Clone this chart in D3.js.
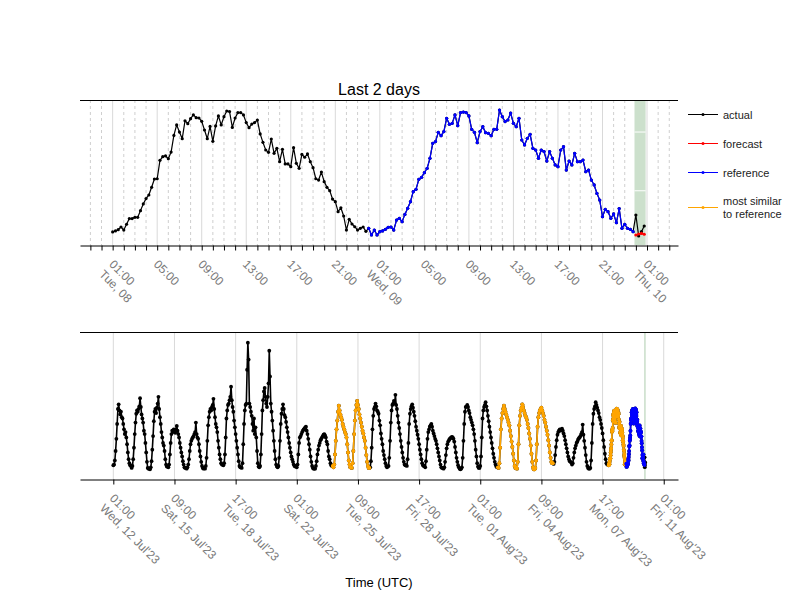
<!DOCTYPE html>
<html><head><meta charset="utf-8">
<script src="https://cdn.jsdelivr.net/npm/d3@7"></script>
<style>
body{margin:0;background:#fff;}
svg text{font-family:"Liberation Sans", Arial, Helvetica, sans-serif;}
</style>
</head><body>
<svg id="chart" width="800" height="600"></svg>
<script>
// ---------------- DATA ----------------
// 15-minute actual values, Tue 08 Aug 2023 01:00 UTC .. 23:45
const tueStart = "2023-08-08T01:00:00Z";
const tueActual = [
  9.0, 9.7, 10.6, 12.4, 10.3, 14.3, 18.2, 18.2, 19.1, 19.1, 23.7, 28.3,
  32.0, 34.5, 39.8, 45.5, 45.7, 58.4, 60.9, 61.4, 59.5, 64.1, 75.6, 82.8,
  77.9, 73.3, 85.7, 83.7, 87.1, 89.7, 87.8, 87.6, 85.3, 79.3, 73.3, 81.8,
  71.5, 82.1, 89.0, 82.8, 88.5, 92.4, 92.0, 81.1, 87.6, 91.3,
  91.3, 89.7, 84.4, 80.9, 83.4, 84.4, 86.2, 76.6, 70.8, 65.5, 63.9, 73.1,
  63.2, 66.7, 57.5, 66.0, 55.9, 55.9, 54.0, 67.1, 56.3, 52.9, 62.5, 60.5,
  62.8, 57.5, 53.3, 45.7, 44.8, 50.3, 43.7, 39.8, 37.5, 31.7, 29.9, 23.0,
  25.7, 20.0, 10.3, 17.7, 14.5, 12.6, 10.3, 11.5, 12.4, 9.4
];
// 15-minute reference day, Wed 09 Aug 2023 00:00 .. 23:45
const wedStart = "2023-08-09T00:00:00Z";
const wedReference = [
  11.5, 6.9, 10.3, 6.9, 9.2, 9.7, 10.8, 12.2, 12.4, 10.3, 17.2, 18.4,
  16.1, 21.1, 25.3, 29.9, 36.8, 38.4, 45.3, 46.7, 49.9, 52.9, 59.8, 70.1,
  71.3, 77.7, 75.4, 78.2, 87.4, 83.2, 83.9, 89.7, 82.3, 91.3, 91.7, 91.3,
  89.0, 79.8, 77.7, 70.6, 78.2, 81.6, 77.5, 77.0, 75.4, 79.8, 79.8, 93.1,
  88.5, 85.1, 86.2, 91.0,
  83.9, 81.6, 87.4, 72.4, 69.0, 73.6, 76.3, 66.7, 65.5, 59.8, 65.5, 64.4,
  57.9, 64.4, 59.8, 55.2, 54.0, 65.5, 67.8, 51.7, 57.9, 55.2, 63.2, 57.5,
  57.5, 58.6, 50.6, 51.7, 44.8, 41.4, 35.6, 31.0, 19.5, 24.6, 23.0, 18.4,
  21.4, 15.4, 25.1, 11.5, 14.3, 11.5, 10.8, 9.2
];
// Thu 10 Aug 2023 00:00 .. 00:45
const thuStart = "2023-08-10T00:00:00Z";
const thuActual = [20.7, 6.2, 9.2, 13.1];
const thuForecast = [6.9, 7.6, 8.0, 7.4];

// Hourly values, Wed 12 Jul 2023 01:00 UTC .. Mon 07 Aug 2023 23:00
const hourlyStart = "2023-07-12T01:00:00Z";
const hourlyLoad = [
  /*12 Jul*/ 9, 10, 16, 30, 48, 70, 92, 99, 90, 84, 88, 80, 78, 70, 62, 55, 58, 50, 40, 28, 18, 12, 9,
  /*13 Jul*/ 8, 5, 8, 18, 35, 55, 72, 85, 90, 88, 92, 96, 108, 95, 84, 78, 72, 60, 55, 42, 28, 14, 5, 4,
  /*14 Jul*/ 4, 3, 6, 15, 32, 52, 74, 88, 92, 86, 94, 100, 110, 92, 80, 70, 58, 50, 42, 38, 30, 18, 10, 7,
  /*15 Jul*/ 7, 6, 10, 25, 42, 55, 60, 58, 62, 60, 57, 62, 67, 60, 55, 50, 42, 35, 28, 22, 15, 10, 6, 5,
  /*16 Jul*/ 5, 4, 6, 10, 18, 30, 40, 45, 48, 50, 52, 55, 58, 72, 55, 50, 48, 40, 30, 22, 14, 8, 5, 4,
  /*17 Jul*/ 5, 4, 8, 20, 45, 68, 80, 88, 92, 90, 95, 98, 107, 92, 80, 70, 65, 58, 45, 35, 25, 18, 12, 10,
  /*18 Jul*/ 10, 9, 12, 25, 50, 78, 90, 98, 100, 105, 110, 125, 105, 95, 88, 75, 65, 55, 45, 35, 25, 15, 8, 6,
  /*19 Jul*/ 6, 5, 12, 40, 70, 90, 98, 100, 150, 190, 165, 100, 95, 88, 82, 70, 60, 78, 55, 65, 50, 30, 12, 7,
  /*20 Jul*/ 6, 8, 25, 55, 90, 105, 118, 123, 110, 100, 95, 110, 130, 178, 140, 100, 88, 75, 60, 45, 30, 18, 10, 7,
  /*21 Jul*/ 6, 8, 20, 45, 70, 85, 92, 99, 92, 83, 80, 73, 65, 58, 50, 42, 35, 28, 22, 18, 14, 10, 8, 7,
  /*22 Jul*/ 8, 6, 10, 25, 42, 50, 52, 55, 58, 60, 62, 63, 65, 66, 60, 55, 48, 40, 32, 22, 14, 8, 5, 4,
  /*23 Jul*/ 4, 4, 8, 15, 25, 32, 38, 42, 46, 48, 50, 52, 54, 55, 53, 50, 44, 40, 30, 22, 18, 12, 9, 8,
  /*24 Jul*/ 8, 6, 10, 25, 45, 62, 75, 88, 97, 90, 84, 80, 76, 70, 66, 62, 58, 55, 50, 40, 28, 16, 10, 6,
  /*25 Jul*/ 6, 5, 12, 30, 55, 75, 90, 98, 104, 98, 92, 84, 78, 72, 66, 60, 56, 50, 45, 35, 24, 14, 8, 5,
  /*26 Jul*/ 5, 6, 15, 35, 62, 82, 92, 95, 100, 96, 90, 88, 85, 75, 68, 56, 48, 40, 30, 24, 18, 12, 8, 6,
  /*27 Jul*/ 7, 8, 20, 45, 72, 90, 98, 100, 104, 100, 113, 98, 92, 82, 72, 64, 55, 45, 36, 28, 20, 14, 10, 9,
  /*28 Jul*/ 9, 8, 18, 42, 70, 85, 92, 96, 99, 94, 88, 82, 74, 66, 60, 54, 48, 40, 32, 25, 18, 12, 9, 8,
  /*29 Jul*/ 8, 6, 15, 32, 48, 58, 62, 66, 68, 70, 66, 60, 56, 52, 48, 45, 40, 34, 28, 22, 16, 10, 6, 5,
  /*30 Jul*/ 5, 4, 6, 14, 24, 34, 40, 44, 46, 48, 49, 50, 51, 50, 48, 44, 36, 28, 20, 14, 9, 6, 4, 3,
  /*31 Jul*/ 4, 6, 20, 45, 70, 88, 95, 96, 98, 95, 90, 86, 80, 76, 72, 68, 62, 55, 45, 32, 22, 12, 7, 5,
  /*01 Aug*/ 5, 8, 22, 50, 78, 90, 95, 98, 102, 96, 90, 82, 74, 66, 58, 50, 42, 34, 26, 20, 14, 10, 7, 6,
  /*02 Aug*/ 6, 5, 12, 35, 62, 78, 86, 92, 97, 92, 88, 84, 80, 76, 72, 68, 60, 52, 44, 36, 26, 16, 8, 5,
  /*03 Aug*/ 5, 4, 14, 40, 68, 82, 90, 94, 99, 95, 90, 86, 82, 80, 76, 70, 64, 56, 48, 38, 26, 14, 6, 3,
  /*04 Aug*/ 3, 5, 16, 40, 66, 80, 86, 90, 92, 94, 90, 86, 82, 76, 72, 66, 60, 54, 46, 38, 28, 20, 14, 12,
  /*05 Aug*/ 12, 11, 14, 24, 36, 46, 54, 58, 60, 62, 60, 62, 63, 60, 56, 52, 46, 40, 34, 28, 22, 18, 15, 14,
  /*06 Aug*/ 13, 10, 12, 20, 28, 34, 38, 42, 44, 47, 49, 50, 52, 55, 58, 69, 54, 45, 35, 24, 14, 8, 5, 4,
  /*07 Aug*/ 4, 5, 16, 42, 70, 85, 92, 96, 102, 98, 94, 90, 86, 80, 76, 70, 64, 56, 46, 36, 26, 18, 12, 10
];

const similarRanges = [
  ["2023-07-24T00:00:00Z", "2023-07-26T00:00:00Z"],
  ["2023-08-02T00:00:00Z", "2023-08-05T00:00:00Z"],
  ["2023-08-08T00:00:00Z", "2023-08-09T00:00:00Z"]
];
const forecastWindow = ["2023-08-09T23:52:30Z", "2023-08-10T00:52:30Z"];

const topTitle = "Last 2 days";
const xAxisTitle = "Time (UTC)";
const topTickTimes = [
  "2023-08-08T01:00:00Z", "2023-08-08T05:00:00Z", "2023-08-08T09:00:00Z", "2023-08-08T13:00:00Z",
  "2023-08-08T17:00:00Z", "2023-08-08T21:00:00Z", "2023-08-09T01:00:00Z", "2023-08-09T05:00:00Z",
  "2023-08-09T09:00:00Z", "2023-08-09T13:00:00Z", "2023-08-09T17:00:00Z", "2023-08-09T21:00:00Z",
  "2023-08-10T01:00:00Z"
];
const topMinorRange = ["2023-08-07T23:00:00Z", "2023-08-10T03:00:00Z"];
const bottomTickTimes = [
  "2023-07-12T01:00:00Z", "2023-07-15T09:00:00Z", "2023-07-18T17:00:00Z", "2023-07-22T01:00:00Z",
  "2023-07-25T09:00:00Z", "2023-07-28T17:00:00Z", "2023-08-01T01:00:00Z", "2023-08-04T09:00:00Z",
  "2023-08-07T17:00:00Z", "2023-08-11T01:00:00Z"
];
const topXDomain = ["2023-08-07T22:04:00Z", "2023-08-10T03:47:00Z"];
const topYDomain = [0, 100];
const topYGrid = [37.4, 77.9];
const bottomXDomain = ["2023-07-10T05:25:00Z", "2023-08-11T19:40:00Z"];
const bottomYDomain = [-11.3, 205.7];

const legendItems = [
  {lines: ["actual"], color: "#000000"},
  {lines: ["forecast"], color: "#ff0000"},
  {lines: ["reference"], color: "#0000ff"},
  {lines: ["most similar", "to reference"], color: "#ffa500"}
];

// ---------------- BUILD ----------------
const Q = 15 * 60e3, H = 60 * 60e3;
function series(start, values, step) {
  const t0 = +new Date(start);
  return values.map((v, i) => ({t: new Date(t0 + i * step), v}));
}
const tueS = series(tueStart, tueActual, Q);
const wedS = series(wedStart, wedReference, Q);
const thuA = series(thuStart, thuActual, Q);
const thuF = series(thuStart, thuForecast, Q);
const actualTop = tueS.concat(wedS, thuA);
const hourlyS = series(hourlyStart, hourlyLoad, H);
const actualAll = hourlyS.concat(actualTop);

const svg = d3.select("#chart");
const L = 80, R = 678;
const GRID = "#d9d9d9";

function drawSeries(g, data, x, y, color, sw, r) {
  const line = d3.line().x(d => x(d.t)).y(d => y(d.v));
  g.append("path").datum(data).attr("d", line)
    .attr("fill", "none").attr("stroke", color).attr("stroke-width", sw)
    .attr("stroke-linejoin", "round");
  g.append("g").selectAll("circle").data(data).join("circle")
    .attr("cx", d => x(d.t)).attr("cy", d => y(d.v)).attr("r", r)
    .attr("fill", color);
}

function drawLabels(g, ticks, x, yAxis, fmt1, fmt2) {
  ticks.forEach((t, i) => {
    const gg = g.append("g").attr("transform", `translate(${x(t)},${yAxis + 11.5}) rotate(45)`);
    const txt = gg.append("text").attr("fill", "#7a7a7a").attr("font-size", 12);
    txt.append("tspan").attr("x", 3).attr("y", 9).text(fmt1(t));
    const l2 = fmt2(t, i);
    if (l2) txt.append("tspan").attr("x", 3).attr("y", 23).text(l2);
  });
}

// ---- TOP PANEL ----
const topY0 = 100, topY1 = 245;
const xT = d3.scaleUtc().domain(topXDomain.map(s => new Date(s))).range([L, R]);
const yT = d3.scaleLinear().domain(topYDomain).range([topY1, topY0]);
const topMajor = topTickTimes.map(s => new Date(s));
const majorSet = new Set(topMajor.map(d => +d));
const topMinor = d3.utcHour.range(new Date(topMinorRange[0]), new Date(+new Date(topMinorRange[1]) + 1));
const gTop = svg.append("g");

gTop.append("g").selectAll("line").data(topMinor.filter(d => !majorSet.has(+d))).join("line")
  .attr("x1", d => xT(d)).attr("x2", d => xT(d)).attr("y1", topY0).attr("y2", topY1)
  .attr("stroke", "#cfcfcf").attr("stroke-dasharray", "3,3").attr("stroke-width", 1);
gTop.append("g").selectAll("line").data(topMajor).join("line")
  .attr("x1", d => xT(d)).attr("x2", d => xT(d)).attr("y1", topY0).attr("y2", topY1)
  .attr("stroke", GRID).attr("stroke-width", 1);

const fw = forecastWindow.map(s => new Date(s));
gTop.append("rect").attr("x", xT(fw[0])).attr("width", xT(fw[1]) - xT(fw[0]))
  .attr("y", topY0).attr("height", topY1 - topY0).attr("fill", "#cce0cc");
gTop.append("g").selectAll("line").data(topYGrid).join("line")
  .attr("x1", xT(fw[0])).attr("x2", xT(fw[1])).attr("y1", d => yT(d)).attr("y2", d => yT(d))
  .attr("stroke", "#ffffff").attr("stroke-width", 1);

drawSeries(gTop, actualTop, xT, yT, "#000000", 1.2, 1.6);
drawSeries(gTop, wedS, xT, yT, "#0000ff", 1.2, 1.6);
drawSeries(gTop, thuF, xT, yT, "#ff0000", 1.2, 1.6);

gTop.append("line").attr("x1", L).attr("x2", R).attr("y1", topY0 + 0.5).attr("y2", topY0 + 0.5)
  .attr("stroke", "#000").attr("stroke-width", 1);
gTop.append("g").attr("transform", `translate(0,${topY1 + 0.5})`)
  .call(d3.axisBottom(xT).tickValues(topMinor).tickSize(5).tickSizeOuter(0).tickFormat(""))
  .call(g => g.selectAll("line,path").attr("stroke", "#000"));

const fH = d3.utcFormat("%H:%M"), fDay = d3.utcFormat("%a, %d");
drawLabels(gTop, topMajor, xT, topY1, fH, (t, i) =>
  (i === 0 || d3.utcDay.floor(t) - d3.utcDay.floor(topMajor[i - 1]) !== 0) ? fDay(t) : null);

gTop.append("text").attr("x", (L + R) / 2).attr("y", 95).attr("text-anchor", "middle")
  .attr("font-size", 16).attr("fill", "#000").text(topTitle);

// ---- BOTTOM PANEL ----
const botY0 = 332, botY1 = 479;
const xB = d3.scaleUtc().domain(bottomXDomain.map(s => new Date(s))).range([L, R]);
const yB = d3.scaleLinear().domain(bottomYDomain).range([botY1, botY0]);
const botTicks = bottomTickTimes.map(s => new Date(s));
const gBot = svg.append("g");

gBot.append("g").selectAll("line").data(botTicks).join("line")
  .attr("x1", d => xB(d)).attr("x2", d => xB(d)).attr("y1", botY0).attr("y2", botY1)
  .attr("stroke", GRID).attr("stroke-width", 1);
gBot.append("rect").attr("x", xB(fw[0]) - 0.4).attr("width", Math.max(1.6, xB(fw[1]) - xB(fw[0])))
  .attr("y", botY0).attr("height", botY1 - botY0).attr("fill", "#cce0cc");

drawSeries(gBot, actualAll, xB, yB, "#000000", 1.6, 1.9);
similarRanges.forEach(r => {
  const a = +new Date(r[0]), b = +new Date(r[1]);
  drawSeries(gBot, actualAll.filter(d => +d.t >= a && +d.t <= b), xB, yB, "#ffa500", 1.6, 1.9);
});
drawSeries(gBot, wedS, xB, yB, "#0000ff", 1.6, 1.9);

gBot.append("line").attr("x1", L).attr("x2", R).attr("y1", botY0 + 0.5).attr("y2", botY0 + 0.5)
  .attr("stroke", "#000").attr("stroke-width", 1);
gBot.append("g").attr("transform", `translate(0,${botY1 + 0.5})`)
  .call(d3.axisBottom(xB).tickValues(botTicks).tickSize(5).tickSizeOuter(0).tickFormat(""))
  .call(g => g.selectAll("line,path").attr("stroke", "#000"));
const fLong = d3.utcFormat("%a, %d %b'%y");
drawLabels(gBot, botTicks, xB, botY1, fH, t => fLong(t));

svg.append("text").attr("x", (L + R) / 2).attr("y", 587).attr("text-anchor", "middle")
  .attr("font-size", 13).attr("fill", "#000").text(xAxisTitle);

// ---- LEGEND ----
const legY = [114.5, 143.5, 172.5, 207.5];
const gLeg = svg.append("g");
legendItems.forEach((it, i) => {
  const y = legY[i];
  gLeg.append("line").attr("x1", 688).attr("x2", 718).attr("y1", y).attr("y2", y)
    .attr("stroke", it.color).attr("stroke-width", 1);
  gLeg.append("circle").attr("cx", 703).attr("cy", y).attr("r", 1.5).attr("fill", it.color);
  const n = it.lines.length;
  it.lines.forEach((s, j) => {
    gLeg.append("text").attr("x", 723).attr("y", y + 4 + (j - (n - 1) / 2) * 13.5)
      .attr("font-size", 11).attr("fill", "#222").text(s);
  });
});
</script>
</body></html>
